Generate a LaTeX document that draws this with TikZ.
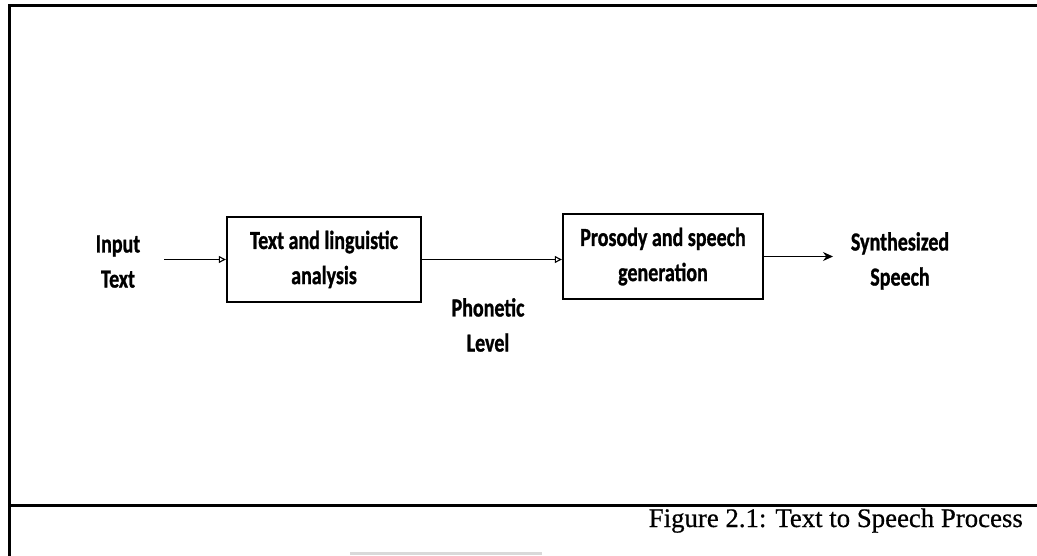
\documentclass[tikz,border=0pt]{standalone}
\usepackage{fontspec}
\setmainfont[FakeBold=1.2]{Carlito}
\newfontfamily\capfont[FakeBold=0.6]{Liberation Serif}
\usetikzlibrary{arrows.meta}
\newcommand{\tallbox}[1]{\scalebox{1}[1.3]{\fontsize{20}{27}\selectfont\bfseries\begin{tabular}{@{}c@{}}#1\end{tabular}}}
\tikzset{
  frameline/.style={line width=3pt, black},
  procbox/.style={draw, line width=2.4pt, inner sep=0pt},
  lbl/.style={inner sep=0pt, align=center},
  arrsmall/.style={line width=1.1pt, -{Triangle[open, length=7pt, width=7pt]}},
  arrbig/.style={line width=1.1pt, -{Stealth[length=10pt, width=9pt]}}
}
\begin{document}
\begin{tikzpicture}[x=1pt, y=-1pt]
\useasboundingbox (0,0) rectangle (1037,556);
% frame
\coordinate (tl) at (9,6);
\coordinate (tr) at (1037,6);
\coordinate (bl) at (9,556);
\coordinate (ml) at (9,505);
\coordinate (mr) at (1037,505);
\draw[frameline] (tr) -- (tl) -- (bl);
\draw[frameline] (ml) -- (mr);
% faint scan artifact
\coordinate (g1) at (350,553);
\coordinate (g2) at (542,553);
\draw[line width=3pt, black!15] (g1) -- (g2);
% boxes
\node[procbox, minimum width=194pt, minimum height=85pt] (box1) at (324,259.5) {\tallbox{Text and linguistic\\analysis}};
\node[procbox, minimum width=200pt, minimum height=85pt] (box2) at (663,256.5) {\tallbox{Prosody and speech\\generation}};
% labels
\node[lbl] (intext) at (118,263) {\tallbox{Input\\Text}};
\node[lbl] (phon) at (488,327) {\tallbox{Phonetic\\Level}};
\node[lbl] (synth) at (900,261) {\tallbox{Synthesized\\Speech}};
% arrows
\coordinate (a1) at (164,259.5);
\coordinate (a3) at (833,256.5);
\draw[arrsmall] (a1) -- (box1.west);
\draw[arrsmall] (box1.east) -- (box1.east -| box2.west);
\draw[arrbig] (box2.east) -- (a3);
% caption
\node[anchor=base east, inner sep=0pt, font=\capfont\fontsize{26.8}{30}\selectfont] (cap) at (1023,527) {Figure 2.1: Text to Speech Process};
\end{tikzpicture}
\end{document}
